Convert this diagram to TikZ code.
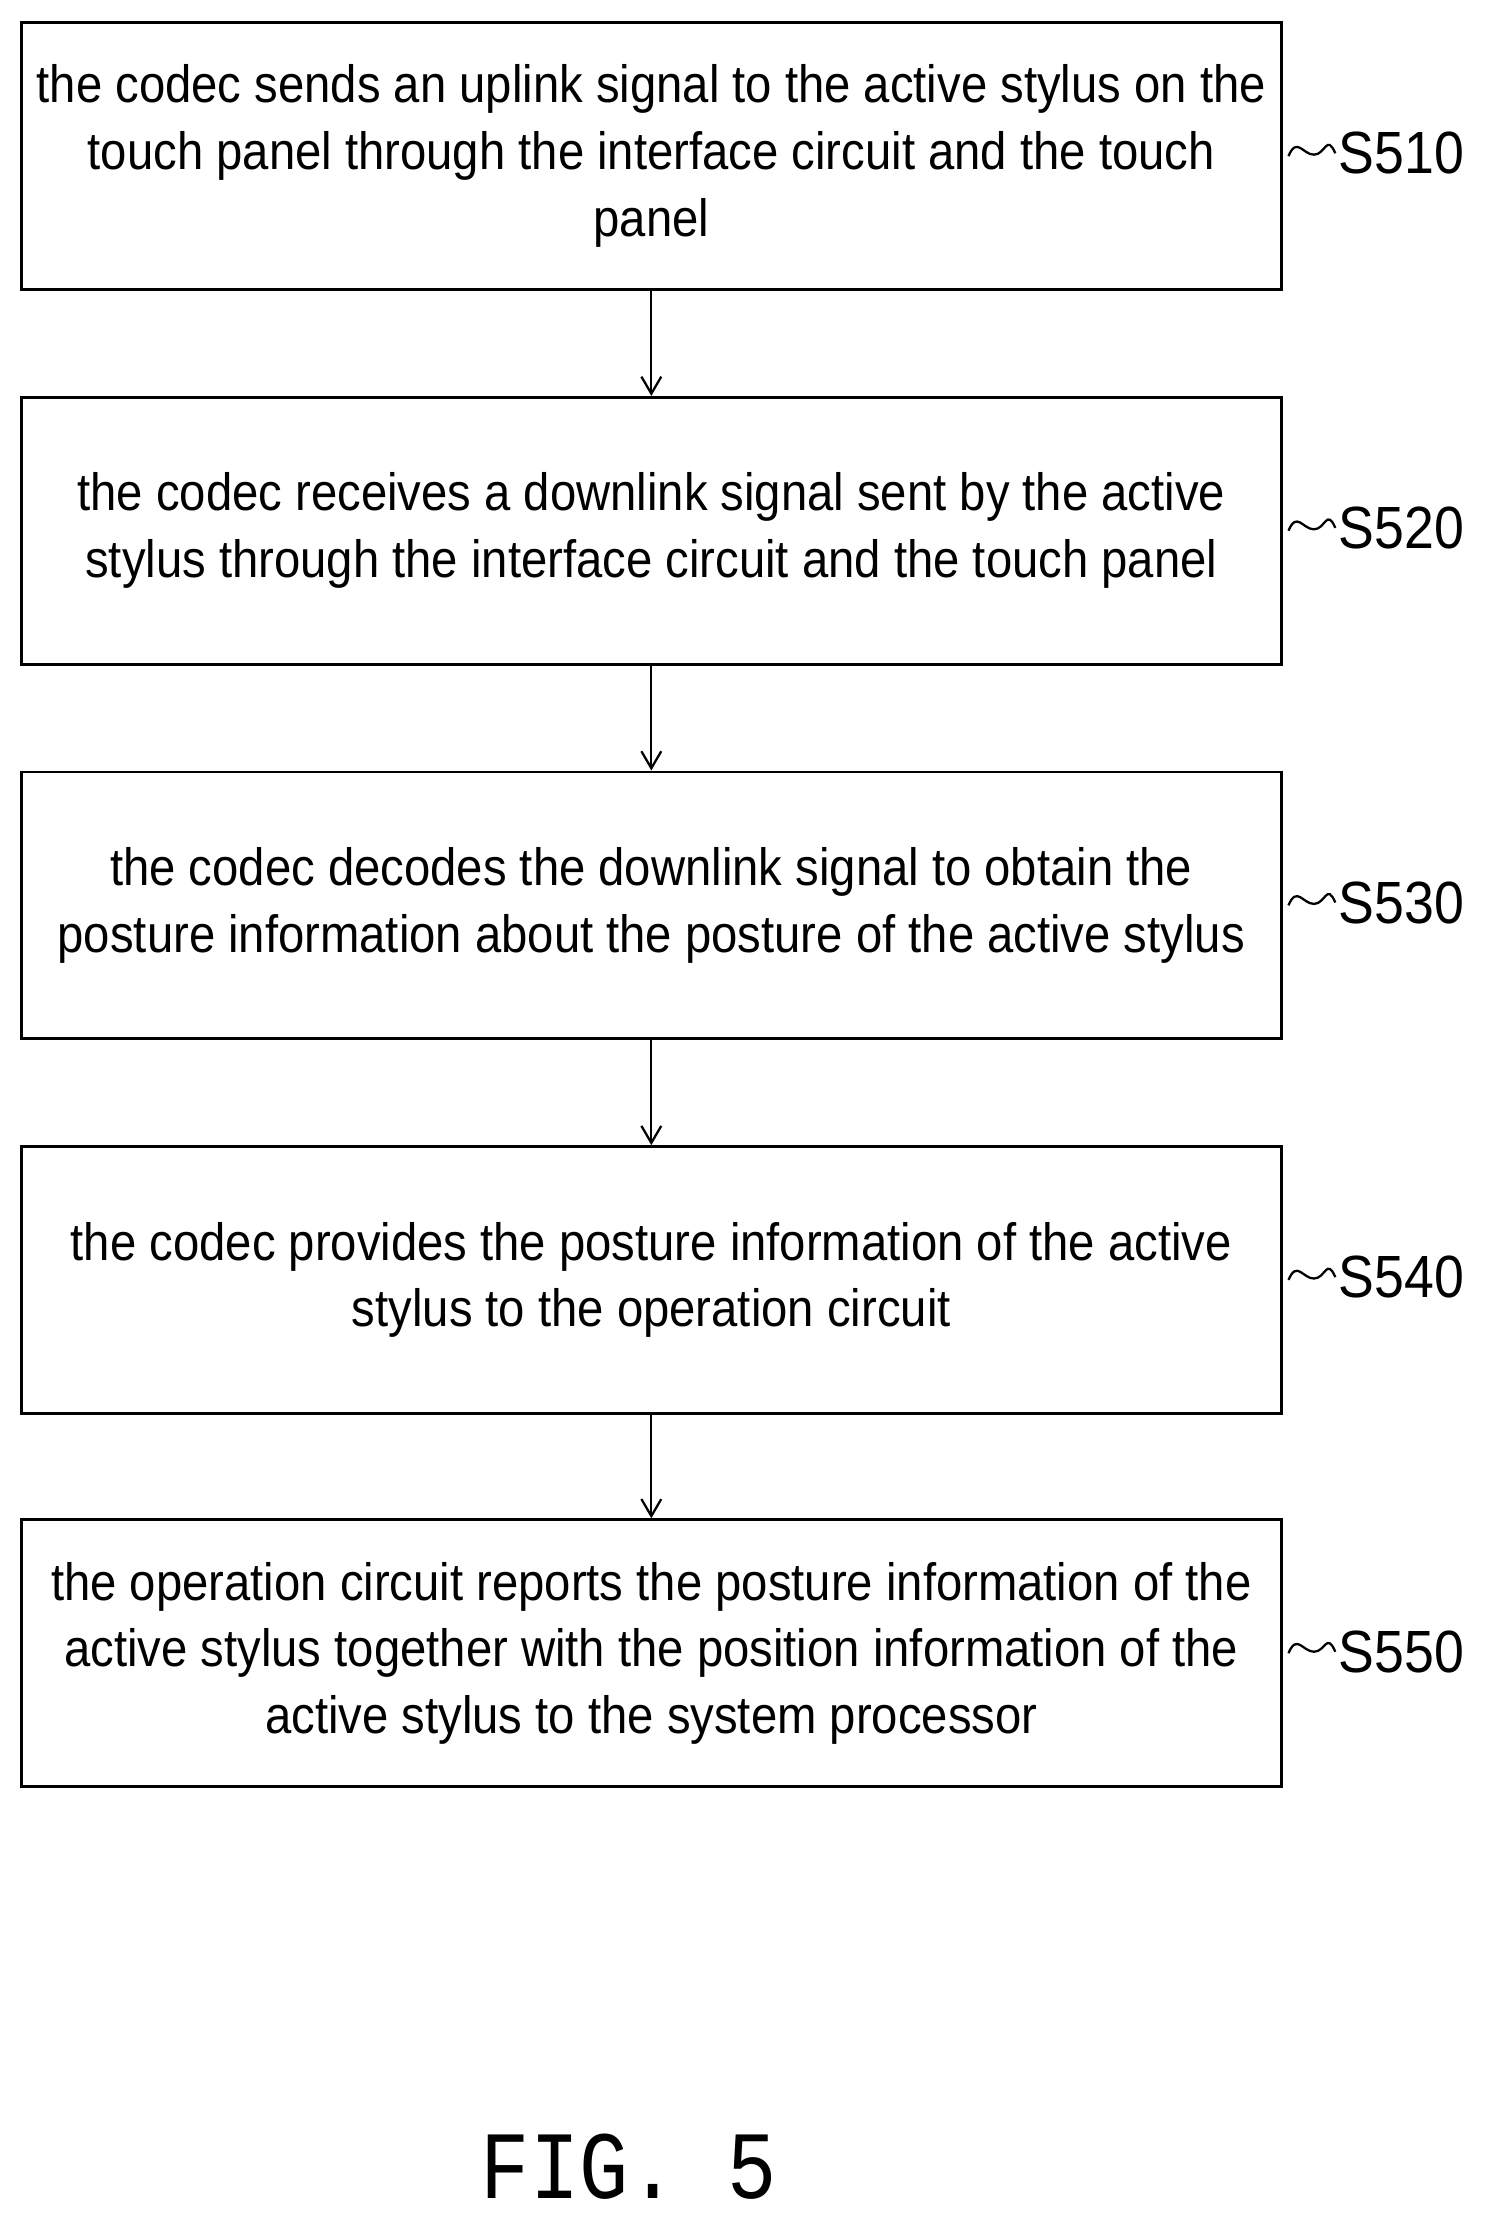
\documentclass[tikz,border=0pt]{standalone}
\usetikzlibrary{arrows.meta}
\usepackage{fontspec}
\setmainfont[FakeStretch=0.9]{Liberation Sans}
\newfontfamily\figfont[FakeStretch=0.85]{Liberation Mono}
\begin{document}
\begin{tikzpicture}[x=0.5pt,y=-0.5pt,
  stepbox/.style={draw,line width=1pt,minimum width=444pt,minimum height=94pt,align=center,font=\fontsize{18.5}{23.5}\selectfont,inner sep=0pt},
  lab/.style={font=\fontsize{21}{24}\selectfont,anchor=west,inner sep=1pt},
  arr/.style={-{Straight Barb[length=6pt,width=7pt]},line width=0.8pt}]
\useasboundingbox (0,0) rectangle (1046,1568);
\node[stepbox] (b1) at (459,110) {the codec sends an uplink signal to the active stylus on the\\touch panel through the interface circuit and the touch\\panel};
\node[stepbox] (b2) at (459,374) {the codec receives a downlink signal sent by the active\\stylus through the interface circuit and the touch panel};
\node[stepbox] (b3) at (459,638) {the codec decodes the downlink signal to obtain the\\posture information about the posture of the active stylus};
\node[stepbox] (b4) at (459,902) {the codec provides the posture information of the active\\stylus to the operation circuit};
\node[stepbox] (b5) at (459,1165) {the operation circuit reports the posture information of the\\active stylus together with the position information of the\\active stylus to the system processor};
\foreach \i/\n in {1/S510,2/S520,3/S530,4/S540,5/S550}{
  \node[lab] (l\i) at (941,\i*264-156) {\n};
  \draw[line width=0.8pt] (b\i.east) ++(4,0) .. controls +(6,-14) and +(-8,0) .. ++(18,-1) .. controls +(8,0) and +(-6,-14) .. (l\i.west);
}
\foreach \a/\b in {b1/b2,b2/b3,b3/b4,b4/b5}{\draw[arr] (\a.south) -- (\b.north);}
\node[font=\figfont\fontsize{34}{40}\selectfont] (fig) at (443,1527) {FIG. 5};
\end{tikzpicture}
\end{document}
